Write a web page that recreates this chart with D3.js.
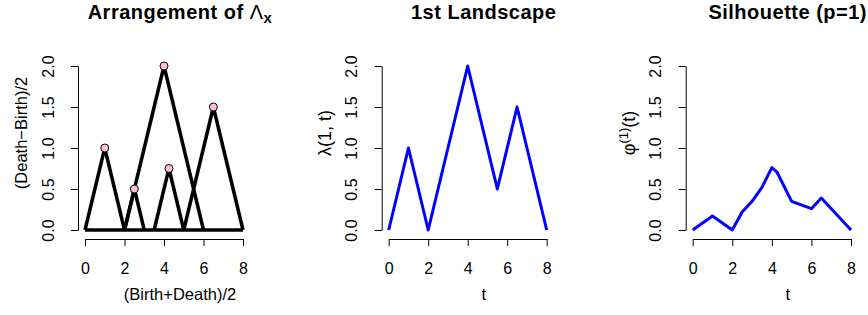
<!DOCTYPE html>
<meta charset="utf-8">
<script src="https://d3js.org/d3.v7.min.js"></script>
<style>
  body { margin: 0; background: #fff; }
  text { font-family: "Liberation Sans", Arial, Helvetica, sans-serif; }
</style>
<div id="my_dataviz"></div>
<script>

// persistence pairs, drawn as ((b+d)/2, (d-b)/2)
var centers = [1, 2.5, 4, 4.25, 6.5];
var heights = [1, 0.5, 2, 0.75, 1.5];

// first landscape
var landT = [0, 1, 2, 4, 5.5, 6.5, 8];
var landV = [0, 1, 0, 2, 0.5, 1.5, 0];

// silhouette (p=1)
var silT = [0, 1, 2, 2.5, 3, 3.5, 4, 4.25, 5, 6, 6.5, 8];
var silV = [0, 0.17, 0, 0.22, 0.35, 0.52, 0.76, 0.71, 0.35, 0.26, 0.39, 0];

var xTicks = [0, 2, 4, 6, 8];
var yTicks = [0, 0.5, 1, 1.5, 2];

var W = 868, H = 315;
var svg = d3.select("#my_dataviz")
  .append("svg")
    .attr("width", W)
    .attr("height", H);

// left end of each x range (position of t=0) and right end (t=8)
var panels = [[85, 243], [388.7, 546.7], [692.7, 851]];

var y = d3.scaleLinear().domain([0, 2]).range([230, 66]);

function makePanel(i) {
  var x = d3.scaleLinear().domain([0, 8]).range(panels[i]);
  var x0 = panels[i][0];
  var g = svg.append("g");

  // x axis
  g.append("g")
    .attr("transform", "translate(0,239)")
    .call(d3.axisBottom(x).tickValues(xTicks).tickSize(7).tickSizeOuter(0).tickPadding(16.5));
  // y axis, labels turned like R's las=0
  var ya = g.append("g")
    .attr("transform", "translate(" + (x0 - 7) + ",0)")
    .call(d3.axisLeft(y).tickValues(yTicks).tickSize(7).tickSizeOuter(0).tickFormat(d3.format(".1f")));
  ya.selectAll(".tick text")
    .attr("transform", "rotate(-90)")
    .attr("x", 0)
    .attr("y", -24.5)
    .attr("dy", 0)
    .attr("text-anchor", "middle");

  g.selectAll(".domain, .tick line").attr("stroke", "#000").attr("stroke-width", 1);
  g.selectAll(".tick text")
    .attr("fill", "#000")
    .style("font-size", "16px")
    .style("font-family", "'Liberation Sans', Arial, sans-serif");

  return {g: g, x: x, x0: x0};
}

function title(p, build) {
  var t = p.g.append("text")
    .attr("x", p.x0 + 95)
    .attr("y", 18.5)
    .attr("text-anchor", "middle")
    .style("font-size", "20px")
    .style("letter-spacing", "0.5px")
    .style("font-weight", "bold");
  build(t);
}

function xLabel(p, s) {
  p.g.append("text")
    .attr("x", p.x0 + 95)
    .attr("y", 300)
    .attr("text-anchor", "middle")
    .style("font-size", "16.5px")
    .text(s);
}

function yLabel(p, size) {
  return p.g.append("text")
    .attr("transform", "translate(" + (p.x0 - 58) + ",133) rotate(-90)")
    .attr("text-anchor", "middle")
    .style("font-size", size + "px");
}

// ---- panel 1: arrangement of triangles
var p1 = makePanel(0);
title(p1, function(t) {
  t.append("tspan").text("Arrangement of ");
  t.append("tspan").style("font-weight", "normal").text("\u039B");
  t.append("tspan").attr("dy", 4).style("font-size", "15px").text("x");
});
xLabel(p1, "(Birth+Death)/2");
yLabel(p1, 16.5).text("(Death\u2212Birth)/2");

var tri = centers.map(function(c, k) {
  var h = heights[k];
  return [[c - h, 0], [c, h], [c + h, 0]];
});
var triLine = d3.line()
  .x(function(d) { return p1.x(d[0]); })
  .y(function(d) { return y(d[1]); });

p1.g.append("line")
  .attr("x1", p1.x(0)).attr("x2", p1.x(8))
  .attr("y1", y(0)).attr("y2", y(0))
  .attr("stroke", "#000").attr("stroke-width", 3.5);

p1.g.selectAll("path.tri")
  .data(tri)
  .enter()
  .append("path")
    .attr("class", "tri")
    .attr("d", triLine)
    .attr("fill", "none")
    .attr("stroke", "#000")
    .attr("stroke-width", 3.5)
    .attr("stroke-linejoin", "round");

p1.g.selectAll("circle")
  .data(centers)
  .enter()
  .append("circle")
    .attr("cx", function(d) { return p1.x(d); })
    .attr("cy", function(d, k) { return y(heights[k]); })
    .attr("r", 4)
    .attr("fill", "pink")
    .attr("stroke", "#000")
    .attr("stroke-width", 1);

// ---- panel 2: first landscape
var p2 = makePanel(1);
title(p2, function(t) { t.text("1st Landscape"); });
xLabel(p2, "t");
yLabel(p2, 18).text("\u03BB(1, t)");

p2.g.append("path")
  .datum(landT.map(function(t, k) { return [t, landV[k]]; }))
  .attr("d", d3.line().x(function(d) { return p2.x(d[0]); }).y(function(d) { return y(d[1]); }))
  .attr("fill", "none")
  .attr("stroke", "#0000ff")
  .attr("stroke-width", 3)
  .attr("stroke-linejoin", "round");

// ---- panel 3: silhouette
var p3 = makePanel(2);
title(p3, function(t) { t.text("Silhouette (p=1)"); });
xLabel(p3, "t");
var yl = yLabel(p3, 18);
yl.append("tspan").text("\u03C6");
yl.append("tspan").attr("dy", -7).style("font-size", "13px").text("(1)");
yl.append("tspan").attr("dy", 7).text("(t)");

p3.g.append("path")
  .datum(silT.map(function(t, k) { return [t, silV[k]]; }))
  .attr("d", d3.line().x(function(d) { return p3.x(d[0]); }).y(function(d) { return y(d[1]); }))
  .attr("fill", "none")
  .attr("stroke", "#0000ff")
  .attr("stroke-width", 3)
  .attr("stroke-linejoin", "round");

</script>
